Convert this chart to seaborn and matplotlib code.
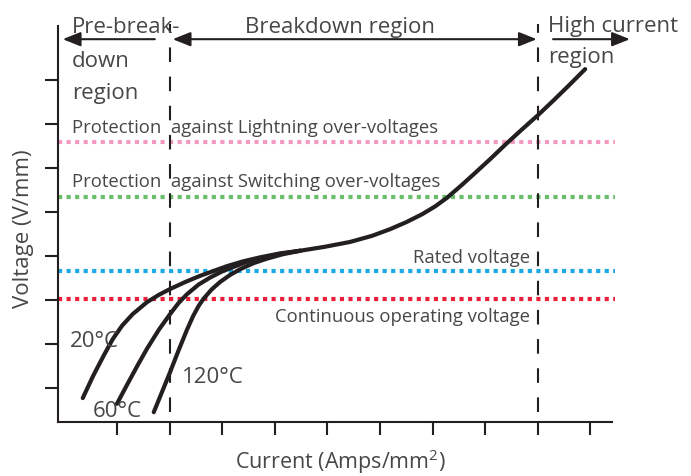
import matplotlib
matplotlib.use("Agg")
import matplotlib.pyplot as plt
import seaborn as sns
import numpy as np

# current ticks / voltage ticks (no labels on the original)
x_ticks = [1, 2, 3, 4, 5, 6, 7, 8, 9, 10]
y_ticks = [1, 2, 3, 4, 5, 6, 7, 8]

# region boundaries on the current axis
zone_bounds = [2, 9]

# voltage levels
level_names = ["Protection  against Lightning over-voltages",
               "Protection  against Switching over-voltages",
               "Rated voltage",
               "Continuous operating voltage"]
level_values = [6.59, 5.34, 3.66, 3.02]

# V-I curves: low-current branches for each temperature + shared upper part
temps = ["20°C", "60°C", "120°C"]
branch_x = {
    "20°C": [0.35, 0.55, 0.75, 0.92, 1.10, 1.30, 1.57, 1.80, 2.01, 2.30, 2.58,
             3.09, 3.40, 3.72, 4.10, 4.48],
    "60°C": [1.00, 1.20, 1.40, 1.57, 1.80, 2.01, 2.17, 2.33, 2.55, 2.77, 3.00,
             3.21, 3.45, 3.72, 4.10, 4.48],
    "120°C": [1.70, 1.85, 2.01, 2.17, 2.33, 2.45, 2.55, 2.64, 2.80, 2.96, 3.15,
              3.34, 3.60, 3.85, 4.15, 4.48],
}
branch_y = {
    "20°C": [0.77, 1.28, 1.74, 2.11, 2.42, 2.68, 2.95, 3.12, 3.25, 3.41, 3.55,
             3.77, 3.88, 3.97, 4.06, 4.12],
    "60°C": [0.64, 1.09, 1.53, 1.89, 2.33, 2.68, 2.93, 3.13, 3.35, 3.51, 3.65,
             3.75, 3.86, 3.95, 4.05, 4.12],
    "120°C": [0.45, 0.89, 1.36, 1.85, 2.32, 2.64, 2.86, 3.02, 3.24, 3.41, 3.57,
              3.70, 3.84, 3.94, 4.04, 4.12],
}
main_x = [4.48, 4.95, 5.43, 5.85, 6.19, 6.50, 6.80, 7.05, 7.28, 7.55, 7.80,
          8.10, 8.38, 8.70, 9.00, 9.30, 9.60, 9.90]
main_y = [4.12, 4.21, 4.32, 4.46, 4.61, 4.77, 4.95, 5.13, 5.33, 5.61, 5.88,
          6.21, 6.53, 6.88, 7.20, 7.54, 7.89, 8.25]

sns.set_style("white")
plt.rcParams['font.family'] = ['Open Sans', 'DejaVu Sans']
plt.rcParams['mathtext.fontset'] = 'custom'
plt.rcParams['mathtext.rm'] = 'Open Sans'

ink = "#231f20"
txt = "#474747"
level_colors = ["#f49ac1", "#6abd6a", "#1ca9e6", "#e8203a"]

fig = plt.figure(figsize=(6.91, 4.77), dpi=100)
ax = fig.add_axes([58 / 691, 54 / 477, 554 / 691, 396 / 477])

for v, c in zip(level_values, level_colors):
    ax.axhline(v, xmin=0, xmax=1.006, color=c, lw=3, ls=(0, (1, 1.05)),
               clip_on=False, zorder=1)

for b in zone_bounds:
    ax.axvline(b, ymin=0.025, ymax=1.005, color=ink, lw=1.5, ls=(0, (7, 7)),
               clip_on=False, zorder=2)

for t in temps:
    sns.lineplot(x=branch_x[t], y=branch_y[t], sort=False, color=ink, lw=3,
                 ax=ax, zorder=3)
sns.lineplot(x=main_x, y=main_y, sort=False, color=ink, lw=3, ax=ax, zorder=3)

ax.set_xlim(-0.12, 10.41)
ax.set_ylim(0.227, 9.23)
ax.set_xticks(x_ticks)
ax.set_yticks(y_ticks)
ax.set_xticklabels([])
ax.set_yticklabels([])
ax.tick_params(direction="out", length=9.5, width=1.5, color=ink,
               bottom=True, left=True)
for s in ["top", "right"]:
    ax.spines[s].set_visible(False)
for s in ["left", "bottom"]:
    ax.spines[s].set_color(ink)
    ax.spines[s].set_linewidth(1.5)

# region arrows
ay = 8.93
head = "-|>,head_length=0.9,head_width=0.36"
ax.annotate("", xy=(-0.03, ay), xytext=(1.72, ay), annotation_clip=False,
            arrowprops=dict(arrowstyle=head, color=ink, lw=1.5,
                            mutation_scale=12, shrinkA=0, shrinkB=0))
ax.annotate("", xy=(8.98, ay), xytext=(2.06, ay), annotation_clip=False,
            arrowprops=dict(arrowstyle="<|-|>,head_length=0.9,head_width=0.36",
                            color=ink, lw=1.5, mutation_scale=12,
                            shrinkA=0, shrinkB=0))
ax.annotate("", xy=(10.75, ay), xytext=(9.29, ay), annotation_clip=False,
            arrowprops=dict(arrowstyle=head, color=ink, lw=1.5,
                            mutation_scale=12, shrinkA=0, shrinkB=0))

big = 16
small = 13.3
ax.text(0.14, 9.09, "Pre-break-", fontsize=big, color=txt, va="baseline")
ax.text(0.14, 8.32, "down", fontsize=big, color=txt, va="baseline")
ax.text(0.14, 7.59, "region", fontsize=big, color=txt, va="baseline")
ax.text(5.24, 9.09, "Breakdown region", fontsize=big, color=txt,
        va="baseline", ha="center")
ax.text(9.19, 9.11, "High current", fontsize=big, color=txt, va="baseline")
ax.text(9.19, 8.41, "region", fontsize=big, color=txt, va="baseline")

ax.text(0.14, 6.82, level_names[0], fontsize=small, color=txt, va="baseline")
ax.text(0.14, 5.59, level_names[1], fontsize=small, color=txt, va="baseline")
ax.text(8.85, 3.86, level_names[2], fontsize=small, color=txt, va="baseline",
        ha="right")
ax.text(8.85, 2.52, level_names[3], fontsize=small, color=txt, va="baseline",
        ha="right")

ax.text(0.11, 1.95, temps[0], fontsize=big, color=txt, va="baseline")
ax.text(0.55, 0.36, temps[1], fontsize=big, color=txt, va="baseline")
ax.text(2.24, 1.14, temps[2], fontsize=big, color=txt, va="baseline")

ax.text(-0.062, 0.49, "Voltage (V/mm)", fontsize=big, color=txt, rotation=90,
        ha="center", va="center", transform=ax.transAxes)
ax.text(0.509, -0.098, r"Current (Amps/mm$^2$)", fontsize=15.5, color=txt,
        ha="center", va="center", transform=ax.transAxes)

fig.savefig("out.png", dpi=100)
